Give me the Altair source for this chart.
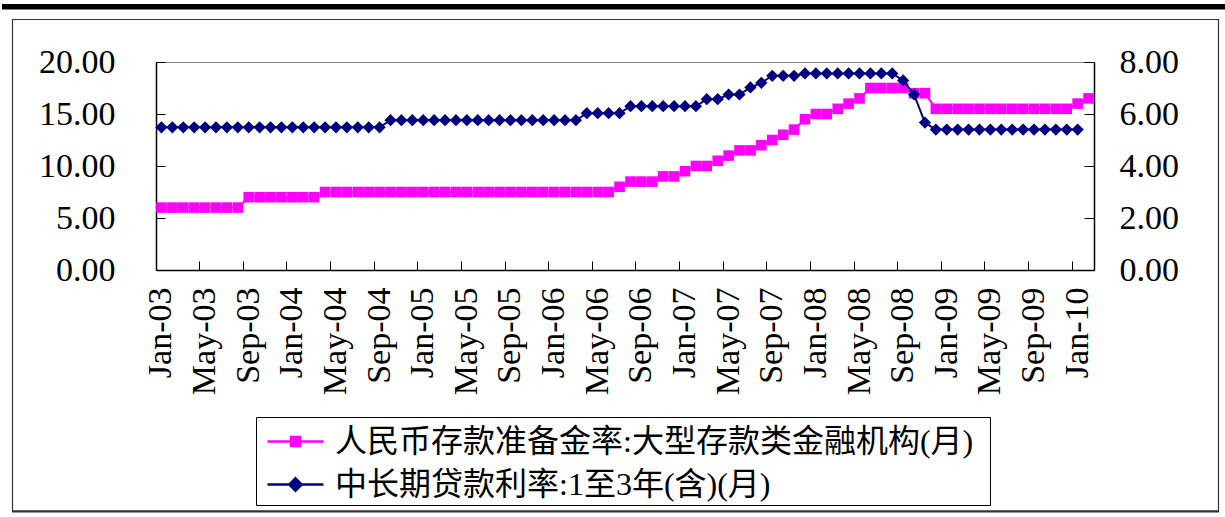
import altair as alt
import pandas as pd

MONTH_ABBR = ["Jan", "Feb", "Mar", "Apr", "May", "Jun",
              "Jul", "Aug", "Sep", "Oct", "Nov", "Dec"]
# Monthly categories Jan-03 .. Feb-10
months = [f"{m}-{y:02d}" for y in range(3, 11) for m in MONTH_ABBR][:86]

# 人民币存款准备金率:大型存款类金融机构 (%), month-end values
rrr_large = [
    6.0, 6.0, 6.0, 6.0, 6.0, 6.0, 6.0, 6.0, 7.0, 7.0, 7.0, 7.0,          # 2003
    7.0, 7.0, 7.0, 7.5, 7.5, 7.5, 7.5, 7.5, 7.5, 7.5, 7.5, 7.5,          # 2004
    7.5, 7.5, 7.5, 7.5, 7.5, 7.5, 7.5, 7.5, 7.5, 7.5, 7.5, 7.5,          # 2005
    7.5, 7.5, 7.5, 7.5, 7.5, 7.5, 8.0, 8.5, 8.5, 8.5, 9.0, 9.0,          # 2006
    9.5, 10.0, 10.0, 10.5, 11.0, 11.5, 11.5, 12.0, 12.5, 13.0, 13.5, 14.5,  # 2007
    15.0, 15.0, 15.5, 16.0, 16.5, 17.5, 17.5, 17.5, 17.5, 17.0, 17.0, 15.5,  # 2008
    15.5, 15.5, 15.5, 15.5, 15.5, 15.5, 15.5, 15.5, 15.5, 15.5, 15.5, 15.5,  # 2009
    16.0, 16.5,                                                          # 2010
]

# 中长期贷款利率:1至3年(含) (%), month-end values (no Feb-10 value)
loan_1to3y = [
    5.49, 5.49, 5.49, 5.49, 5.49, 5.49, 5.49, 5.49, 5.49, 5.49, 5.49, 5.49,  # 2003
    5.49, 5.49, 5.49, 5.49, 5.49, 5.49, 5.49, 5.49, 5.49, 5.76, 5.76, 5.76,  # 2004
    5.76, 5.76, 5.76, 5.76, 5.76, 5.76, 5.76, 5.76, 5.76, 5.76, 5.76, 5.76,  # 2005
    5.76, 5.76, 5.76, 6.03, 6.03, 6.03, 6.03, 6.30, 6.30, 6.30, 6.30, 6.30,  # 2006
    6.30, 6.30, 6.57, 6.57, 6.75, 6.75, 7.02, 7.20, 7.47, 7.47, 7.47, 7.56,  # 2007
    7.56, 7.56, 7.56, 7.56, 7.56, 7.56, 7.56, 7.56, 7.29, 6.75, 5.67, 5.40,  # 2008
    5.40, 5.40, 5.40, 5.40, 5.40, 5.40, 5.40, 5.40, 5.40, 5.40, 5.40, 5.40,  # 2009
    5.40,                                                                    # 2010
]

left_ticks = [0, 5, 10, 15, 20]
right_ticks = [0, 2, 4, 6, 8]
label_months = months[::4]

SERIES_RRR = "人民币存款准备金率:大型存款类金融机构(月)"
SERIES_LOAN = "中长期贷款利率:1至3年(含)(月)"

PINK = "#FF00FF"
NAVY = "#000080"
NUM_FONT = "Liberation Serif"
CJK_FONT = "Liberation Serif, Noto Sans CJK SC"
FS_AXIS = 34
FS_LEGEND = 32

W, H = 938, 208
PAD_L, PAD_T = 156, 62

df_rrr = pd.DataFrame({"month": months, "value": rrr_large, "series": SERIES_RRR})
df_loan = pd.DataFrame({"month": months[:len(loan_1to3y)], "value": loan_1to3y,
                        "series": SERIES_LOAN})
one = alt.Data(values=[{"k": 0}])

x_scale = alt.Scale(type="band", domain=months, paddingInner=0, paddingOuter=0)
left_scale = alt.Scale(domain=[0, 20], nice=False, zero=True)
right_scale = alt.Scale(domain=[0, 8], nice=False, zero=True)

# Category axis: ticks on band edges pointing into the plot, labels centred
x_axis = alt.Axis(values=label_months, labelAngle=270, bandPosition=0,
                  ticks=True, tickSize={"expr": "-9"}, tickColor="black",
                  tickWidth=1, labelPadding=26, domainColor="black",
                  domainWidth=1.5, labelFont=NUM_FONT, labelFontSize=FS_AXIS,
                  labelColor="black", labelOverlap=False, grid=False,
                  title=None)


def y_axis(values, orient, pad, tick):
    return alt.Axis(values=values, orient=orient, format=".2f", ticks=True,
                    tickSize={"expr": f"-{tick}"}, tickColor="black",
                    tickWidth=1, labelPadding=pad, domainColor="black",
                    domainWidth=1.5, labelFont=NUM_FONT, labelFontSize=FS_AXIS,
                    labelColor="black", labelOverlap=False, grid=False,
                    title=None)


def legend(path, color, y):
    return alt.Legend(orient="none", legendX=110, legendY=y, title=None,
                      symbolType=path, symbolSize=3136, symbolStrokeWidth=2.5,
                      symbolFillColor=color, symbolStrokeColor=color,
                      symbolOpacity=1, labelFont=CJK_FONT,
                      labelFontSize=FS_LEGEND, labelColor="black",
                      labelLimit=1000, labelOffset=10, padding=0)


LEG_SQUARE = "M-1,0H1M-0.16,-0.16H0.16V0.16H-0.16Z"
LEG_DIAMOND = "M-1,0H1M0,-0.22L0.22,0L0,0.22L-0.22,0Z"

x_main = alt.X("month:N", scale=x_scale, axis=x_axis)

# Deposit reserve ratio on the left axis
rrr_line = alt.Chart(df_rrr).mark_line(color=PINK, strokeWidth=2).encode(
    x=x_main,
    y=alt.Y("value:Q", scale=left_scale,
            axis=y_axis(left_ticks, "left", 50, 9)),
)
rrr_pts = alt.Chart(df_rrr).mark_point(shape="square", filled=True, size=112,
                                       opacity=1).encode(
    x=x_main,
    y=alt.Y("value:Q", scale=left_scale, axis=None),
    color=alt.Color("series:N", scale=alt.Scale(domain=[SERIES_RRR], range=[PINK]),
                    legend=legend(LEG_SQUARE, PINK, 350)),
)

# 1-3 year loan rate on the right axis
loan_line = alt.Chart(df_loan).mark_line(color=NAVY, strokeWidth=2).encode(
    x=x_main,
    y=alt.Y("value:Q", scale=right_scale,
            axis=y_axis(right_ticks, "right", 35, 10)),
)
loan_pts = alt.Chart(df_loan).mark_point(shape="diamond", filled=True, size=150,
                                         opacity=1).encode(
    x=x_main,
    y=alt.Y("value:Q", scale=right_scale, axis=None),
    color=alt.Color("series:N", scale=alt.Scale(domain=[SERIES_LOAN], range=[NAVY]),
                    legend=legend(LEG_DIAMOND, NAVY, 393)),
)

# Page frame: heavy bar on top, thin border box, legend box
top_bar = alt.Chart(one).mark_rect(color="black").encode(
    x=alt.value(2 - PAD_L), x2=alt.value(1225 - PAD_L),
    y=alt.value(4 - PAD_T), y2=alt.value(9.5 - PAD_T),
)
frame = alt.Chart(one).mark_rect(fill="transparent", stroke="#333333",
                                 strokeWidth=1.2).encode(
    x=alt.value(12.5 - PAD_L), x2=alt.value(1218.5 - PAD_L),
    y=alt.value(19.5 - PAD_T), y2=alt.value(511 - PAD_T),
)
frame_bottom = alt.Chart(one).mark_rule(color="#333333", strokeWidth=2).encode(
    x=alt.value(12 - PAD_L), x2=alt.value(1219 - PAD_L),
    y=alt.value(511.5 - PAD_T),
)
legend_box = alt.Chart(one).mark_rect(fill="transparent", stroke="black",
                                      strokeWidth=1).encode(
    x=alt.value(256.5 - PAD_L), x2=alt.value(990.5 - PAD_L),
    y=alt.value(417.5 - PAD_T), y2=alt.value(505.5 - PAD_T),
)

chart = alt.layer(
    top_bar, frame, frame_bottom, legend_box,
    rrr_line, rrr_pts, loan_line, loan_pts,
).resolve_scale(
    y="independent", color="independent"
).properties(
    width=W, height=H,
    autosize=alt.AutoSizeParams(type="none"),
    padding={"left": PAD_L, "top": PAD_T, "right": 1225 - PAD_L - W,
             "bottom": 517 - PAD_T - H},
    background="white",
).configure_view(
    stroke="#808080", strokeWidth=1
)

chart.save("out.html", embed_options={"renderer": "svg", "actions": False})
